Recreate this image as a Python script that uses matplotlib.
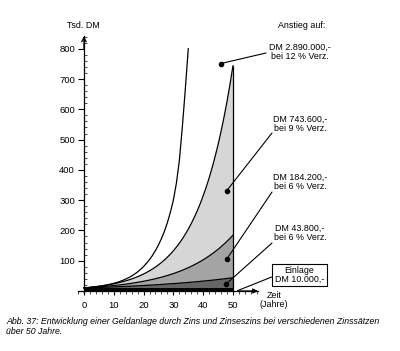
import matplotlib

matplotlib.use("Agg")
import matplotlib.pyplot as plt
from matplotlib.patches import Rectangle
from matplotlib.ticker import MultipleLocator

plt.rcParams["font.family"] = ["Liberation Sans", "DejaVu Sans"]

W, H = 400, 351

years = list(range(0, 51))
years_12 = list(range(0, 36))
value_12 = [10.0, 10.9, 11.9, 13.0, 14.2, 15.5, 17.0, 18.7, 20.6, 22.8,
            25.3, 28.1, 31.3, 35.0, 39.2, 44.0, 49.5, 55.8, 63.0, 71.3,
            80.8, 91.5, 103.5, 117.5, 133.5, 152.0, 173.0, 197.0, 226.0, 260.0,
            300.0, 355.0, 430.0, 540.0, 665.0, 800.0]
value_9 = [10.0, 10.9, 11.9, 13.0, 14.1, 15.4, 16.8, 18.3, 19.9, 21.7,
           23.7, 25.8, 28.1, 30.7, 33.4, 36.4, 39.7, 43.3, 47.2, 51.4,
           56.0, 61.1, 66.6, 72.6, 79.1, 86.2, 94.0, 102.5, 111.7, 121.7,
           132.7, 144.6, 157.6, 171.8, 187.3, 204.1, 222.5, 242.5, 264.3, 288.1,
           314.1, 342.3, 373.1, 406.7, 443.3, 483.2, 526.7, 574.1, 625.7, 682.0,
           743.6]
value_6 = [10.0, 10.6, 11.2, 11.9, 12.6, 13.4, 14.2, 15.0, 15.9, 16.9,
           17.9, 19.0, 20.1, 21.3, 22.6, 24.0, 25.4, 26.9, 28.5, 30.3,
           32.1, 34.0, 36.0, 38.2, 40.5, 42.9, 45.5, 48.2, 51.1, 54.2,
           57.4, 60.9, 64.5, 68.4, 72.5, 76.9, 81.5, 86.4, 91.6, 97.0,
           102.9, 109.0, 115.6, 122.5, 129.9, 137.6, 145.9, 154.7, 164.0, 173.8,
           184.2]
value_3 = [10.0, 10.3, 10.6, 10.9, 11.3, 11.6, 11.9, 12.3, 12.7, 13.0,
           13.4, 13.8, 14.3, 14.7, 15.1, 15.6, 16.0, 16.5, 17.0, 17.5,
           18.1, 18.6, 19.2, 19.7, 20.3, 20.9, 21.6, 22.2, 22.9, 23.6,
           24.3, 25.0, 25.8, 26.5, 27.3, 28.1, 29.0, 29.9, 30.7, 31.7,
           32.6, 33.6, 34.6, 35.6, 36.7, 37.8, 38.9, 40.1, 41.3, 42.5,
           43.8]
einlage = 10.0

x_ticks = [0, 10, 20, 30, 40, 50]
y_ticks = [0, 100, 200, 300, 400, 500, 600, 700, 800]

labels = [
    ("DM 2.890.000,-\nbei 12 % Verz.", (45.9, 751), (266, 53), (300, 52)),
    ("DM 743.600,-\nbei 9 % Verz.", (47.9, 331), (272, 133), (300, 124)),
    ("DM 184.200,-\nbei 6 % Verz.", (47.9, 105), (272, 192), (300, 182)),
    ("DM 43.800,-\nbei 6 % Verz.", (47.7, 23), (272, 243), (300, 233)),
]


def fx(px):
    return px / W


def fy(py):
    return 1 - py / H


fig = plt.figure(figsize=(W / 100, H / 100), dpi=100)
ax = fig.add_axes([fx(78), fy(293.4), fx(258) - fx(78), fy(36) - fy(293.4)])
ax.set_xlim(-2, 58.4)
ax.set_ylim(-8, 842)

# Flaechen
ax.fill_between(years, 0, value_9, color="#d6d6d6", lw=0)
ax.fill_between(years, 0, value_6, color="#a4a4a4", lw=0)
ax.fill_between(years, 0, value_3, color="#666666", lw=0)
ax.fill_between(years, 0, einlage, color="#000000", lw=0)

for vals, xs in [(value_12, years_12), (value_9, years), (value_6, years), (value_3, years)]:
    ax.plot(xs, vals, color="black", lw=0.9)
ax.vlines(years[-1], 0, value_9[-1], color="black", lw=0.9)

# Achsen
for s in ["top", "right"]:
    ax.spines[s].set_visible(False)
ax.spines["left"].set_position(("data", 0))
ax.spines["bottom"].set_position(("data", 0))
ax.spines["left"].set_linewidth(0.9)
ax.spines["bottom"].set_linewidth(0.9)
ax.annotate("", xy=(0, 842), xytext=(0, 800), arrowprops=dict(arrowstyle="->", lw=0.9,
            shrinkA=0, shrinkB=0, mutation_scale=8), annotation_clip=False)
ax.annotate("", xy=(58.4, 0), xytext=(52, 0), arrowprops=dict(arrowstyle="-|>", lw=0.9,
            shrinkA=0, shrinkB=0, mutation_scale=7, color="black"), annotation_clip=False)

ax.set_xticks(x_ticks)
ax.set_yticks(y_ticks)
ax.set_yticklabels([""] + [str(v) for v in y_ticks[1:]])
ax.xaxis.set_minor_locator(MultipleLocator(2))
ax.yaxis.set_minor_locator(MultipleLocator(20))
ax.tick_params(axis="both", which="major", labelsize=6.8, width=0.8, color="black")
ax.tick_params(axis="x", which="major", length=3, pad=4)
ax.tick_params(axis="y", which="major", length=4.5, pad=2)
ax.tick_params(axis="x", which="minor", length=1.8, width=0.5)
ax.tick_params(axis="y", which="minor", length=1.8, width=0.5, direction="in")
ax.set_xlim(-2, 58.4)

# Beschriftungen
fs = 6.4
fig.text(fx(83), fy(25), "Tsd. DM", fontsize=fs, ha="center", va="center")
fig.text(fx(302), fy(25), "Anstieg auf:", fontsize=fs, ha="center", va="center")
fig.text(fx(274), fy(300), "Zeit\n(Jahre)", fontsize=fs, ha="center", va="center",
         linespacing=1.0)

for text, dot, line_end, text_pos in labels:
    ax.plot(*dot, "o", color="black", ms=3, clip_on=False)
    ax.annotate("", xy=dot, xytext=(line_end[0], H - line_end[1]), textcoords="figure pixels",
                arrowprops=dict(arrowstyle="-", lw=0.8, shrinkA=0, shrinkB=0),
                annotation_clip=False)
    fig.text(fx(text_pos[0]), fy(text_pos[1]), text, fontsize=fs, ha="center",
             va="center", linespacing=1.0)

# Einlage-Kasten
fig.add_artist(Rectangle((fx(271.7), fy(285.7)), fx(327.3) - fx(271.7), fy(264.3) - fy(285.7),
                         transform=fig.transFigure, fill=False, ec="black", lw=0.8))
fig.text(fx(299.5), fy(275), "Einlage\nDM 10.000,-", fontsize=fs, ha="center",
         va="center", linespacing=1.0)
ax.annotate("", xy=(51.5, 1), xytext=(271.7, H - 277), textcoords="figure pixels",
            arrowprops=dict(arrowstyle="-", lw=0.8, shrinkA=0, shrinkB=0),
            annotation_clip=False)

fig.text(fx(6), fy(321.5), "Abb. 37: Entwicklung einer Geldanlage durch Zins und Zinseszins "
         "bei verschiedenen Zinssätzen", fontsize=6.3, style="italic", ha="left", va="center")
fig.text(fx(6), fy(331.5), "über 50 Jahre.", fontsize=6.3, style="italic", ha="left", va="center")

fig.savefig("out.png", dpi=100, facecolor="white")
